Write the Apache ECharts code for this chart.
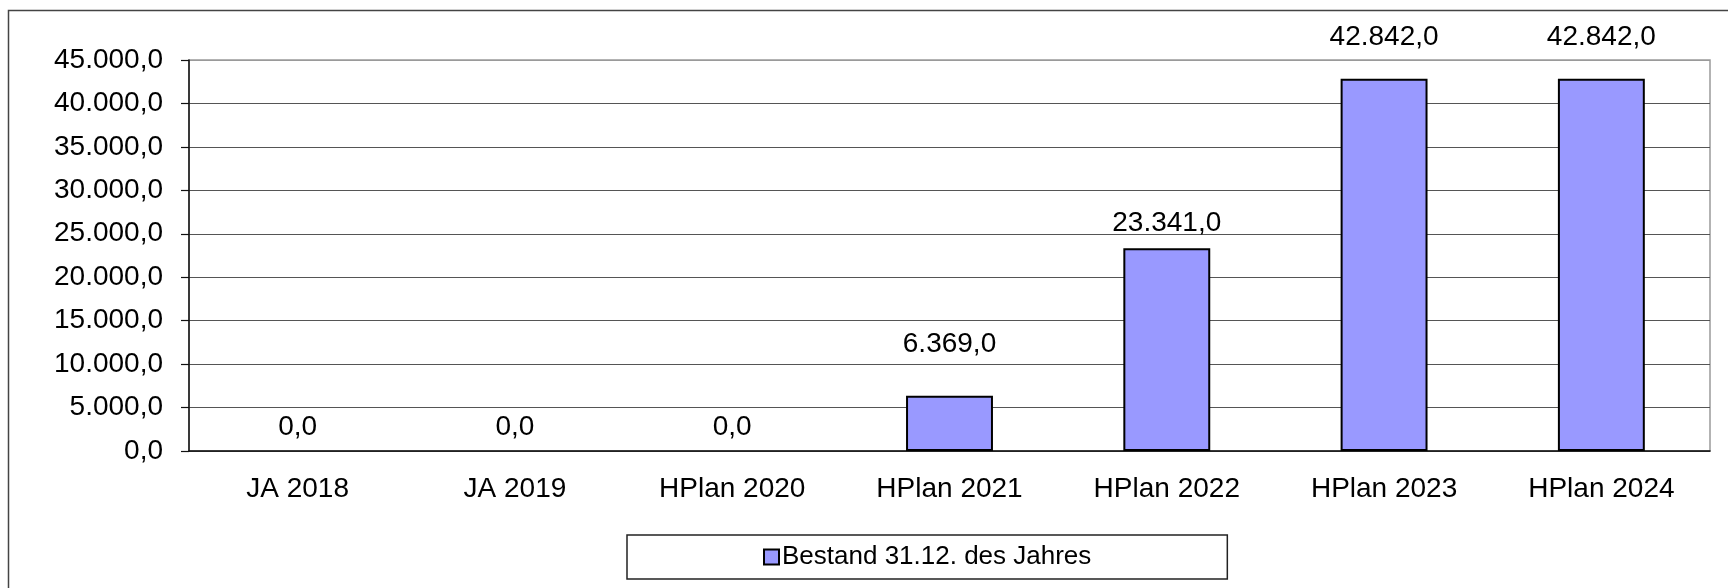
<!DOCTYPE html>
<html>
<head>
<meta charset="utf-8">
<script src="https://cdn.jsdelivr.net/npm/echarts@6/dist/echarts.min.js"></script>
<style>
  html, body { margin: 0; padding: 0; background: #fff; }
  #bestand { width: 1728px; height: 588px; }
</style>
</head>
<body>
<div id="bestand"></div>
<script>
// Bestand zum Jahresende
var categories = ['JA 2018', 'JA 2019', 'HPlan 2020', 'HPlan 2021', 'HPlan 2022', 'HPlan 2023', 'HPlan 2024'];
var bestand = [0, 0, 0, 6369, 23341, 42842, 42842];
var seriesName = 'Bestand 31.12. des Jahres';
var yTicks = { min: 0, max: 45000, step: 5000 };

// Abstand der Beschriftung über dem Balken (wie im Original verschoben)
var labelGap = [10, 10, 10, 37, 11, 27, 27];

(function() {
	var chart = echarts.init(document.getElementById('bestand'));
	var font = "'Liberation Sans', Arial, sans-serif";

	// 42842 -> "42.842,0"
	function fmt(v) {
		var s = Math.abs(v).toFixed(1).split('.');
		var ganz = s[0].replace(/\B(?=(\d{3})+(?!\d))/g, '.');
		return (v < 0 ? '-' : '') + ganz + ',' + s[1];
	}

	var gridColors = [];
	var nLines = yTicks.max / yTicks.step + 1;
	for (var i = 0; i < nLines; i++) {
		gridColors.push(i === nLines - 1 ? '#9a9a9a' : '#555');
	}

	var data = bestand.map(function(v, i) {
		var item = { value: v, label: { distance: labelGap[i] } };
		if (v === 0) item.itemStyle = { borderWidth: 0 };   // kein Strich bei 0
		return item;
	});

	var option = {
		animation: false,
		textStyle: { fontFamily: font },
		graphic: [{
			type: 'rect',
			shape: { x: 8.5, y: 10.5, width: 1900, height: 900 },
			style: { fill: 'none', stroke: '#444', lineWidth: 1.5 },
			z: -1
		}],
		grid: {
			left: 189, right: 18, top: 60, bottom: 137,
			show: true,
			borderColor: '#9a9a9a',
			borderWidth: 1.5
		},
		legend: {
			data: [seriesName],
			left: 627, top: 535,
			padding: [9, 136],
			itemWidth: 15, itemHeight: 15, itemGap: 0,
			icon: 'rect',
			borderColor: '#222', borderWidth: 1.5,
			textStyle: { fontFamily: font, fontSize: 26, color: '#000', padding: [0, 0, 0, -2] },
			itemStyle: { borderColor: '#000', borderWidth: 2 }
		},
		xAxis: {
			type: 'category',
			data: categories,
			axisLine: { lineStyle: { color: '#111', width: 1.5 } },
			axisTick: { length: 9, lineStyle: { color: '#111', width: 1.2 } },
			axisLabel: { fontSize: 28, color: '#000', margin: 24, fontFamily: font }
		},
		yAxis: {
			type: 'value',
			min: yTicks.min, max: yTicks.max, interval: yTicks.step,
			axisLine: { show: true, lineStyle: { color: '#111', width: 1.5 } },
			axisTick: { show: true, length: 8, lineStyle: { color: '#111', width: 1.2 } },
			axisLabel: { fontSize: 28, color: '#000', margin: 26, fontFamily: font, formatter: fmt },
			splitLine: { lineStyle: { color: gridColors, width: 1.2 } }
		},
		series: [{
			name: seriesName,
			type: 'bar',
			barWidth: '40%',
			data: data,
			itemStyle: { color: '#9999ff', borderColor: '#000', borderWidth: 2 },
			label: {
				show: true,
				position: 'top',
				fontSize: 28,
				color: '#000',
				fontFamily: font,
				formatter: function(p) { return fmt(p.value); }
			}
		}]
	};

	chart.setOption(option);
})();
</script>
</body>
</html>
